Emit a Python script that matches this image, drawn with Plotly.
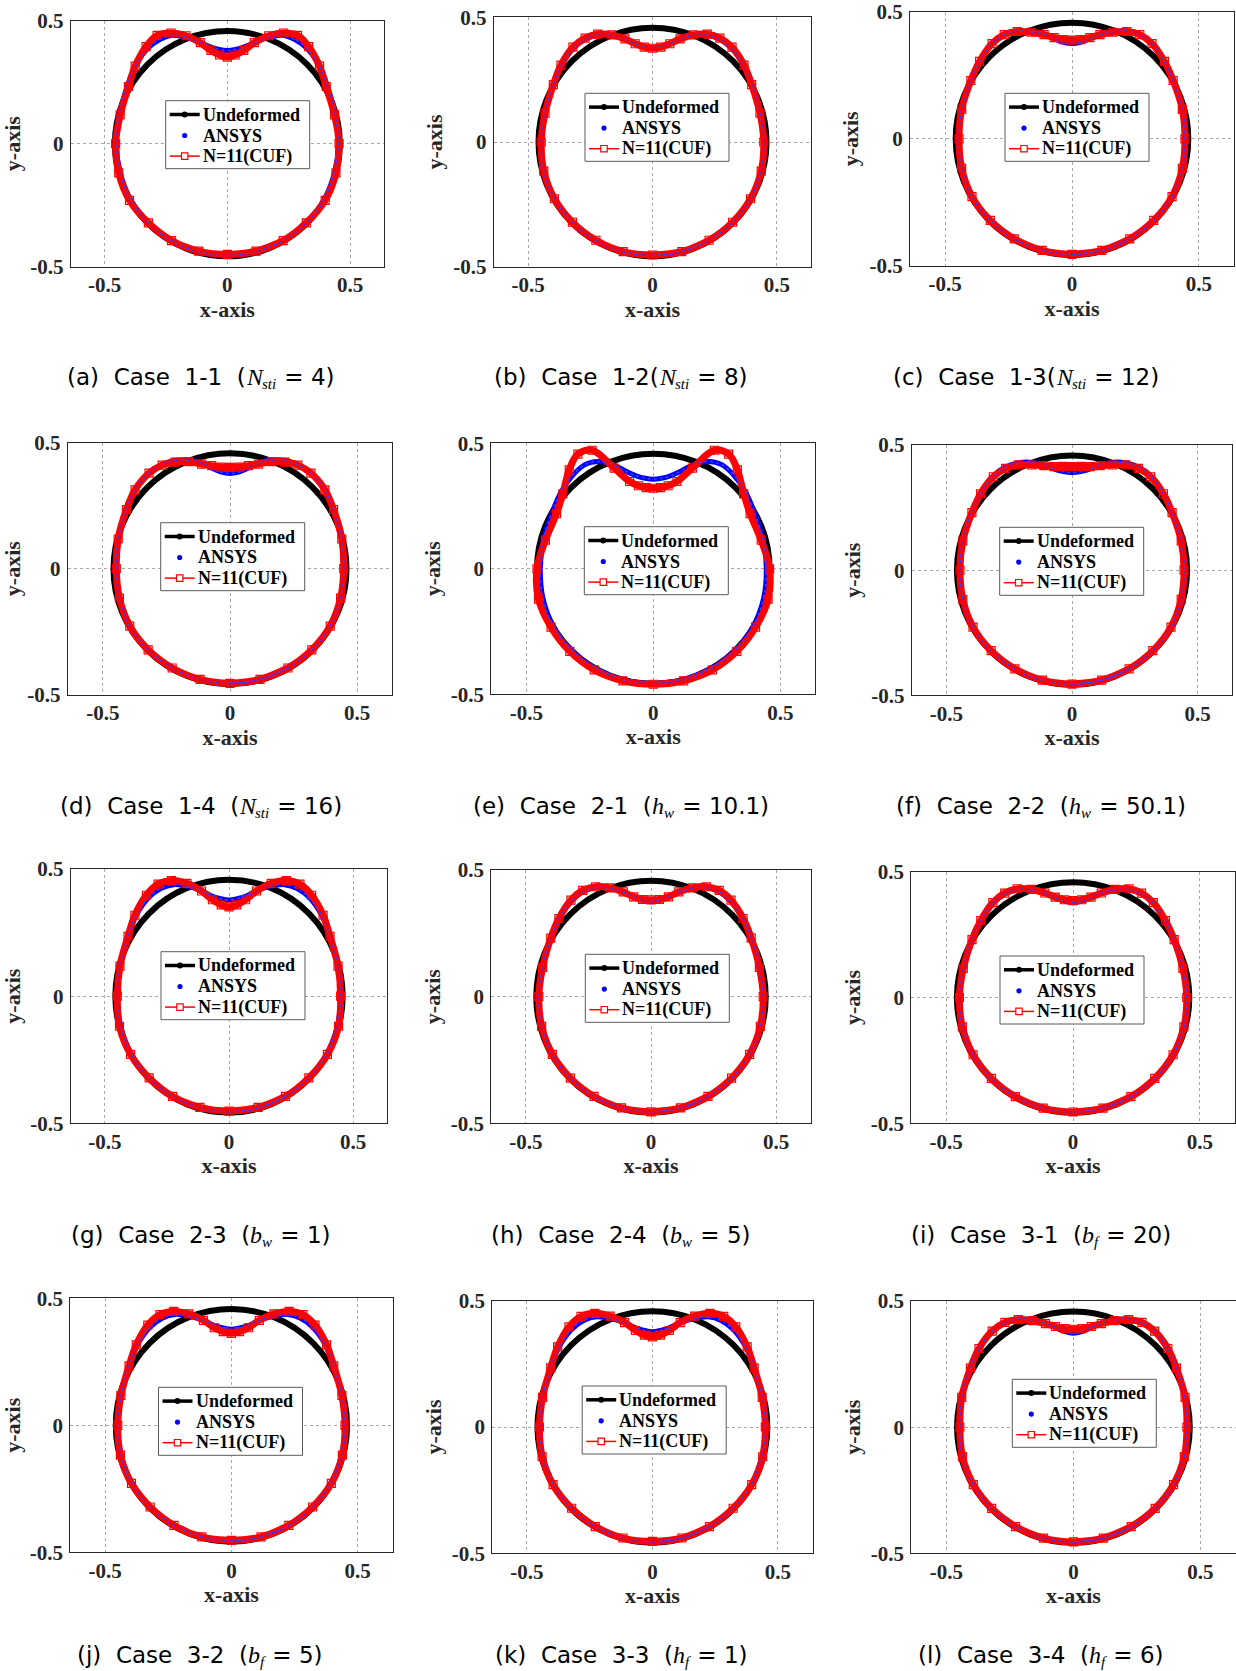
import numpy as np
import plotly.graph_objects as go

# ---------------------------------------------------------------- data
# polar sample angles (deg) on the right half of each ring, bottom -> top;
# the left half is the mirror image
ANGLES = [-90, -75, -60, -45, -30, -15, 0, 15, 30, 40, 50, 57, 63, 69, 75, 80, 85, 90]

R_UNDEFORMED = 0.458

PANELS = ["a", "b", "c", "d", "e", "f", "g", "h", "i", "j", "k", "l"]

# deformed radius at each angle, ANSYS solution
ANSYS_R = {
    "a": [0.455, 0.455, 0.455, 0.455, 0.455, 0.452, 0.452, 0.455, 0.470, 0.490, 0.505, 0.505, 0.495, 0.462, 0.425, 0.400, 0.385, 0.379],
    "b": [0.455, 0.455, 0.455, 0.455, 0.455, 0.452, 0.447, 0.447, 0.460, 0.478, 0.492, 0.492, 0.483, 0.458, 0.428, 0.400, 0.384, 0.378],
    "c": [0.455, 0.455, 0.455, 0.455, 0.455, 0.450, 0.445, 0.450, 0.460, 0.475, 0.490, 0.490, 0.477, 0.452, 0.426, 0.400, 0.382, 0.376],
    "d": [0.455, 0.455, 0.455, 0.455, 0.455, 0.450, 0.447, 0.455, 0.470, 0.487, 0.495, 0.492, 0.482, 0.462, 0.435, 0.405, 0.385, 0.378],
    "e": [0.457, 0.457, 0.457, 0.457, 0.455, 0.450, 0.445, 0.448, 0.458, 0.475, 0.490, 0.495, 0.480, 0.445, 0.400, 0.375, 0.362, 0.357],
    "f": [0.455, 0.455, 0.455, 0.455, 0.455, 0.450, 0.446, 0.450, 0.460, 0.475, 0.490, 0.490, 0.480, 0.462, 0.437, 0.410, 0.395, 0.390],
    "g": [0.455, 0.455, 0.455, 0.455, 0.455, 0.452, 0.450, 0.455, 0.470, 0.490, 0.505, 0.505, 0.492, 0.463, 0.430, 0.400, 0.385, 0.378],
    "h": [0.455, 0.455, 0.455, 0.455, 0.455, 0.452, 0.448, 0.448, 0.462, 0.480, 0.493, 0.495, 0.483, 0.458, 0.428, 0.400, 0.382, 0.375],
    "i": [0.455, 0.455, 0.455, 0.455, 0.455, 0.452, 0.448, 0.448, 0.460, 0.475, 0.490, 0.492, 0.482, 0.458, 0.430, 0.402, 0.384, 0.377],
    "j": [0.455, 0.455, 0.455, 0.455, 0.455, 0.452, 0.450, 0.453, 0.468, 0.488, 0.503, 0.503, 0.490, 0.460, 0.428, 0.400, 0.385, 0.378],
    "k": [0.455, 0.455, 0.455, 0.455, 0.455, 0.452, 0.450, 0.453, 0.468, 0.488, 0.503, 0.503, 0.490, 0.460, 0.428, 0.400, 0.384, 0.377],
    "l": [0.455, 0.455, 0.455, 0.455, 0.455, 0.452, 0.447, 0.455, 0.468, 0.485, 0.497, 0.495, 0.480, 0.455, 0.427, 0.400, 0.380, 0.372],
}

# deformed radius at each angle, CUF model with N = 11
CUF_R = {
    "a": [0.450, 0.452, 0.455, 0.455, 0.460, 0.458, 0.455, 0.452, 0.465, 0.490, 0.515, 0.525, 0.505, 0.470, 0.425, 0.385, 0.362, 0.352],
    "b": [0.453, 0.455, 0.455, 0.455, 0.455, 0.452, 0.447, 0.447, 0.460, 0.480, 0.497, 0.497, 0.485, 0.460, 0.428, 0.400, 0.382, 0.376],
    "c": [0.455, 0.455, 0.455, 0.455, 0.455, 0.450, 0.445, 0.450, 0.460, 0.475, 0.490, 0.490, 0.475, 0.450, 0.425, 0.405, 0.393, 0.389],
    "d": [0.455, 0.455, 0.455, 0.455, 0.455, 0.450, 0.447, 0.455, 0.470, 0.487, 0.495, 0.490, 0.475, 0.455, 0.430, 0.415, 0.405, 0.402],
    "e": [0.460, 0.462, 0.465, 0.465, 0.465, 0.468, 0.458, 0.440, 0.440, 0.465, 0.515, 0.545, 0.530, 0.430, 0.360, 0.336, 0.325, 0.321],
    "f": [0.455, 0.455, 0.455, 0.455, 0.455, 0.450, 0.446, 0.450, 0.460, 0.475, 0.487, 0.485, 0.472, 0.450, 0.432, 0.420, 0.416, 0.414],
    "g": [0.452, 0.453, 0.455, 0.455, 0.458, 0.457, 0.450, 0.455, 0.470, 0.495, 0.518, 0.525, 0.510, 0.475, 0.428, 0.385, 0.360, 0.351],
    "h": [0.455, 0.455, 0.455, 0.455, 0.455, 0.452, 0.448, 0.448, 0.462, 0.480, 0.497, 0.500, 0.487, 0.460, 0.428, 0.400, 0.385, 0.382],
    "i": [0.455, 0.455, 0.455, 0.455, 0.455, 0.452, 0.448, 0.448, 0.460, 0.475, 0.492, 0.495, 0.485, 0.460, 0.430, 0.405, 0.390, 0.385],
    "j": [0.453, 0.455, 0.455, 0.455, 0.457, 0.455, 0.450, 0.453, 0.468, 0.492, 0.515, 0.520, 0.503, 0.470, 0.428, 0.390, 0.370, 0.362],
    "k": [0.453, 0.455, 0.455, 0.455, 0.457, 0.455, 0.450, 0.453, 0.468, 0.493, 0.517, 0.522, 0.505, 0.470, 0.428, 0.388, 0.365, 0.357],
    "l": [0.455, 0.455, 0.455, 0.455, 0.455, 0.452, 0.447, 0.455, 0.468, 0.485, 0.497, 0.495, 0.478, 0.452, 0.425, 0.405, 0.392, 0.388],
}

SERIES_NAMES = ["Undeformed", "ANSYS", "N=11(CUF)"]

# caption pieces: case id, parameter symbol, subscript, value
CASES = ["1-1", "1-2", "1-3", "1-4", "2-1", "2-2", "2-3", "2-4", "3-1", "3-2", "3-3", "3-4"]
SYMBOLS = ["N", "N", "N", "N", "h", "h", "b", "b", "b", "b", "h", "h"]
SUBSCRIPTS = ["sti", "sti", "sti", "sti", "w", "w", "w", "w", "f", "f", "f", "f"]
VALUES = ["4", "8", "12", "16", "10.1", "50.1", "1", "5", "20", "5", "1", "6"]
GAP_BEFORE_PAREN = [True, False, False, True, True, True, True, True, True, True, True, True]

X_TICKS = [-0.5, 0, 0.5]
X_TICK_TEXT = ["-0.5", "0", "0.5"]
Y_TICKS = [-0.5, 0, 0.5]
Y_TICK_TEXT = ["-0.5", "0", "0.5"]

# ---------------------------------------------------------------- layout (px)
W, H = 1236, 1671
# plot boxes: left, right, top, bottom
BOXES = [
    (70.7, 384.0, 20.7, 266.7), (493.7, 811.3, 17.3, 266.7), (910.0, 1234.0, 12.0, 265.7),
    (67.7, 392.3, 442.7, 694.7), (491.3, 815.3, 443.3, 694.3), (911.7, 1232.3, 445.0, 695.3),
    (70.7, 387.3, 869.0, 1123.3), (491.2, 810.8, 870.0, 1123.3), (911.2, 1235.0, 871.7, 1123.3),
    (70.3, 392.5, 1298.3, 1552.3), (492.3, 812.5, 1300.7, 1553.3), (911.3, 1235.5, 1301.0, 1553.3),
]
# legend boxes: left, top (width and height shared)
LEGEND_POS = [
    (165.7, 100.7), (585.0, 93.3), (1005.0, 93.3),
    (160.7, 522.7), (584.3, 526.7), (999.7, 527.3),
    (161.0, 951.7), (585.3, 954.3), (1000.0, 956.0),
    (158.5, 1387.3), (582.2, 1386.0), (1012.3, 1379.3),
]
LEGEND_W, LEGEND_H = 144, 68
LEGEND_ROWS = [13.8, 34.8, 55.4]
CAPTION_POS = [
    (200, 377), (620, 377), (1025, 377),
    (200, 806), (620, 806), (1040, 806),
    (200, 1235), (620, 1235), (1040, 1235),
    (199, 1655), (620, 1655), (1040, 1655),
]

SERIF = "Liberation Serif"
SANS = "DejaVu Sans"
AXIS_COLOR = "#262626"
BLUE = "#0000ff"
RED = "#ff0000"

CAP_SIZE, MATH_SIZE, SUB_SIZE = 23, 24, 15
# advance widths (em) used to lay out the caption pieces side by side
SANS_EM = {" ": 0.318, "\u00a0": 0.318, "(": 0.390, ")": 0.390, "-": 0.361, ".": 0.318,
           "=": 0.838, "C": 0.698, "a": 0.613, "s": 0.521, "e": 0.615,
           "b": 0.635, "c": 0.550, "d": 0.635, "f": 0.352, "g": 0.635,
           "h": 0.634, "i": 0.278, "j": 0.278, "k": 0.579, "l": 0.278}
ITALIC_EM = {"N": 0.667, "h": 0.500, "b": 0.500, "s": 0.389, "t": 0.278,
             "i": 0.278, "w": 0.667, "f": 0.278}


def sans_width(s, size):
    return sum(SANS_EM.get(ch, 0.636) for ch in s) * size


def italic_width(s, size):
    return sum(ITALIC_EM.get(ch, 0.5) for ch in s) * size


def ring_xy(radii):
    """Closed ring from right-half radii mirrored about the y-axis."""
    ang = list(ANGLES) + [180 - a for a in reversed(ANGLES[1:-1])] + [270]
    rad = list(radii) + list(reversed(radii[1:-1])) + [radii[0]]
    t = np.radians(ang)
    r = np.array(rad)
    return r * np.cos(t), r * np.sin(t)


def wrapped(x, y):
    # repeat the first segment so the smoothed outline closes without a kink
    return np.concatenate([x, x[1:3]]), np.concatenate([y, y[1:3]])


def px_x(v):
    return v / W


def px_y(v):
    return 1 - v / H


fig = go.Figure()
layout = dict(
    width=W, height=H, autosize=False,
    margin=dict(l=0, r=0, t=0, b=0, pad=0, autoexpand=False),
    paper_bgcolor="white", plot_bgcolor="white", showlegend=False,
)
annotations = []
shapes = []
title_font = dict(family=SERIF, size=22, color=AXIS_COLOR, weight="bold")


def text_note(text, x, y, font, xanchor="left"):
    return dict(text=text, xref="paper", yref="paper", x=px_x(x), y=px_y(y),
                xanchor=xanchor, yanchor="middle", showarrow=False, borderpad=0,
                font=font)


for k, p in enumerate(PANELS):
    n = k + 1
    xa = "x" if n == 1 else f"x{n}"
    ya = "y" if n == 1 else f"y{n}"
    l, r, t, b = BOXES[k]

    axis_common = dict(
        showline=True, mirror=True, linecolor=AXIS_COLOR, linewidth=1,
        showgrid=True, gridcolor="#a8a8a8", griddash="dot", gridwidth=1,
        zeroline=False, ticks="", fixedrange=True, automargin=False,
        tickfont=dict(family=SERIF, size=21, color=AXIS_COLOR, weight="bold"),
    )
    layout["xaxis" if n == 1 else f"xaxis{n}"] = dict(
        axis_common, domain=[px_x(l), px_x(r)], range=[-0.638, 0.638],
        anchor=ya, tickvals=X_TICKS, ticktext=X_TICK_TEXT, ticklabelstandoff=-1,
        title=dict(text="x-axis", font=title_font, standoff=4),
    )
    layout["yaxis" if n == 1 else f"yaxis{n}"] = dict(
        axis_common, domain=[px_y(b), px_y(t)], range=[-0.5, 0.5],
        anchor=xa, tickvals=Y_TICKS, ticktext=Y_TICK_TEXT, ticklabelstandoff=2,
        title=dict(text="y-axis", font=title_font, standoff=4),
    )

    # undeformed ring
    shapes.append(dict(
        type="circle", xref=xa, yref=ya, layer="between",
        x0=-R_UNDEFORMED, x1=R_UNDEFORMED, y0=-R_UNDEFORMED, y1=R_UNDEFORMED,
        line=dict(color="black", width=6),
    ))

    # ANSYS outline
    ax_, ay_ = ring_xy(ANSYS_R[p])
    bx, by = wrapped(ax_, ay_)
    fig.add_trace(go.Scatter(
        x=bx, y=by, xaxis=xa, yaxis=ya, name=SERIES_NAMES[1],
        mode="lines", line=dict(color=BLUE, width=5, shape="spline"), hoverinfo="skip",
    ))

    # CUF outline, with the ANSYS dots showing through the open squares
    cx_, cy_ = ring_xy(CUF_R[p])
    cbx, cby = wrapped(cx_, cy_)
    fig.add_trace(go.Scatter(
        x=cbx, y=cby, xaxis=xa, yaxis=ya, name=SERIES_NAMES[2],
        mode="lines", line=dict(color=RED, width=7, shape="spline"), hoverinfo="skip",
    ))
    fig.add_trace(go.Scatter(
        x=bx, y=by, xaxis=xa, yaxis=ya, name=SERIES_NAMES[1],
        mode="lines", line=dict(color="#3b3bff", width=1.6, shape="spline", dash="dot"),
        hoverinfo="skip",
    ))
    fig.add_trace(go.Scatter(
        x=cx_[:-1], y=cy_[:-1], xaxis=xa, yaxis=ya, name=SERIES_NAMES[2],
        mode="markers",
        marker=dict(symbol="square-open", size=8, color=RED, line=dict(width=1.2)),
    ))

    # legend box
    lx, ly = LEGEND_POS[k]
    shapes.append(dict(
        type="rect", xref="paper", yref="paper", layer="above",
        x0=px_x(lx), x1=px_x(lx + LEGEND_W), y0=px_y(ly + LEGEND_H), y1=px_y(ly),
        line=dict(color="#5a5a5a", width=1), fillcolor="white",
    ))
    r0, r1, r2 = (ly + d for d in LEGEND_ROWS)
    sx0, sx1, sxc = lx + 4, lx + 34, lx + 19
    # Undeformed: thick black line with a dot
    shapes.append(dict(type="line", xref="paper", yref="paper", layer="above",
                       x0=px_x(sx0), x1=px_x(sx1), y0=px_y(r0), y1=px_y(r0),
                       line=dict(color="black", width=3.5)))
    shapes.append(dict(type="circle", xref="paper", yref="paper", layer="above",
                       x0=px_x(sxc - 3), x1=px_x(sxc + 3), y0=px_y(r0 + 3), y1=px_y(r0 - 3),
                       line=dict(color="black", width=0), fillcolor="black"))
    # ANSYS: blue dot
    shapes.append(dict(type="circle", xref="paper", yref="paper", layer="above",
                       x0=px_x(sxc - 2.6), x1=px_x(sxc + 2.6), y0=px_y(r1 + 2.6), y1=px_y(r1 - 2.6),
                       line=dict(color=BLUE, width=0), fillcolor=BLUE))
    # CUF: thin red line with an open square
    shapes.append(dict(type="line", xref="paper", yref="paper", layer="above",
                       x0=px_x(sx0), x1=px_x(sx1), y0=px_y(r2), y1=px_y(r2),
                       line=dict(color=RED, width=1.5)))
    shapes.append(dict(type="rect", xref="paper", yref="paper", layer="above",
                       x0=px_x(sxc - 3.2), x1=px_x(sxc + 3.2), y0=px_y(r2 + 3.2), y1=px_y(r2 - 3.2),
                       line=dict(color=RED, width=1.2), fillcolor="white"))
    legend_font = dict(family=SERIF, size=18, color="black", weight="bold")
    for name, ry in zip(SERIES_NAMES, (r0, r1, r2)):
        annotations.append(text_note(name, lx + 36, ry, legend_font))

    # caption: "(a)  Case  1-1  (N_sti = 4)" laid out piece by piece
    nb = "\u00a0"
    head = f"({p}){nb}{nb}Case{nb}{nb}{CASES[k]}" + (nb * 2 if GAP_BEFORE_PAREN[k] else "") + "("
    tail = f"{nb}={nb}{VALUES[k]})"
    w_head = sans_width(head, CAP_SIZE)
    w_sym = italic_width(SYMBOLS[k], MATH_SIZE)
    w_sub = italic_width(SUBSCRIPTS[k], SUB_SIZE) + 1
    w_tail = sans_width(tail, CAP_SIZE)
    cxp, cyp = CAPTION_POS[k]
    x_start = cxp - (w_head + w_sym + w_sub + w_tail) / 2
    sans_font = dict(family=SANS, size=CAP_SIZE, color="black")
    annotations.append(text_note(head, x_start, cyp, sans_font))
    annotations.append(text_note(SYMBOLS[k], x_start + w_head, cyp,
                                 dict(family=SERIF, size=MATH_SIZE, color="black", style="italic")))
    annotations.append(text_note(SUBSCRIPTS[k], x_start + w_head + w_sym, cyp + 7,
                                 dict(family=SERIF, size=SUB_SIZE, color="black", style="italic")))
    annotations.append(text_note(tail, x_start + w_head + w_sym + w_sub, cyp, sans_font))

layout["annotations"] = annotations
layout["shapes"] = shapes
fig.update_layout(**layout)
fig.write_html("out.html")
